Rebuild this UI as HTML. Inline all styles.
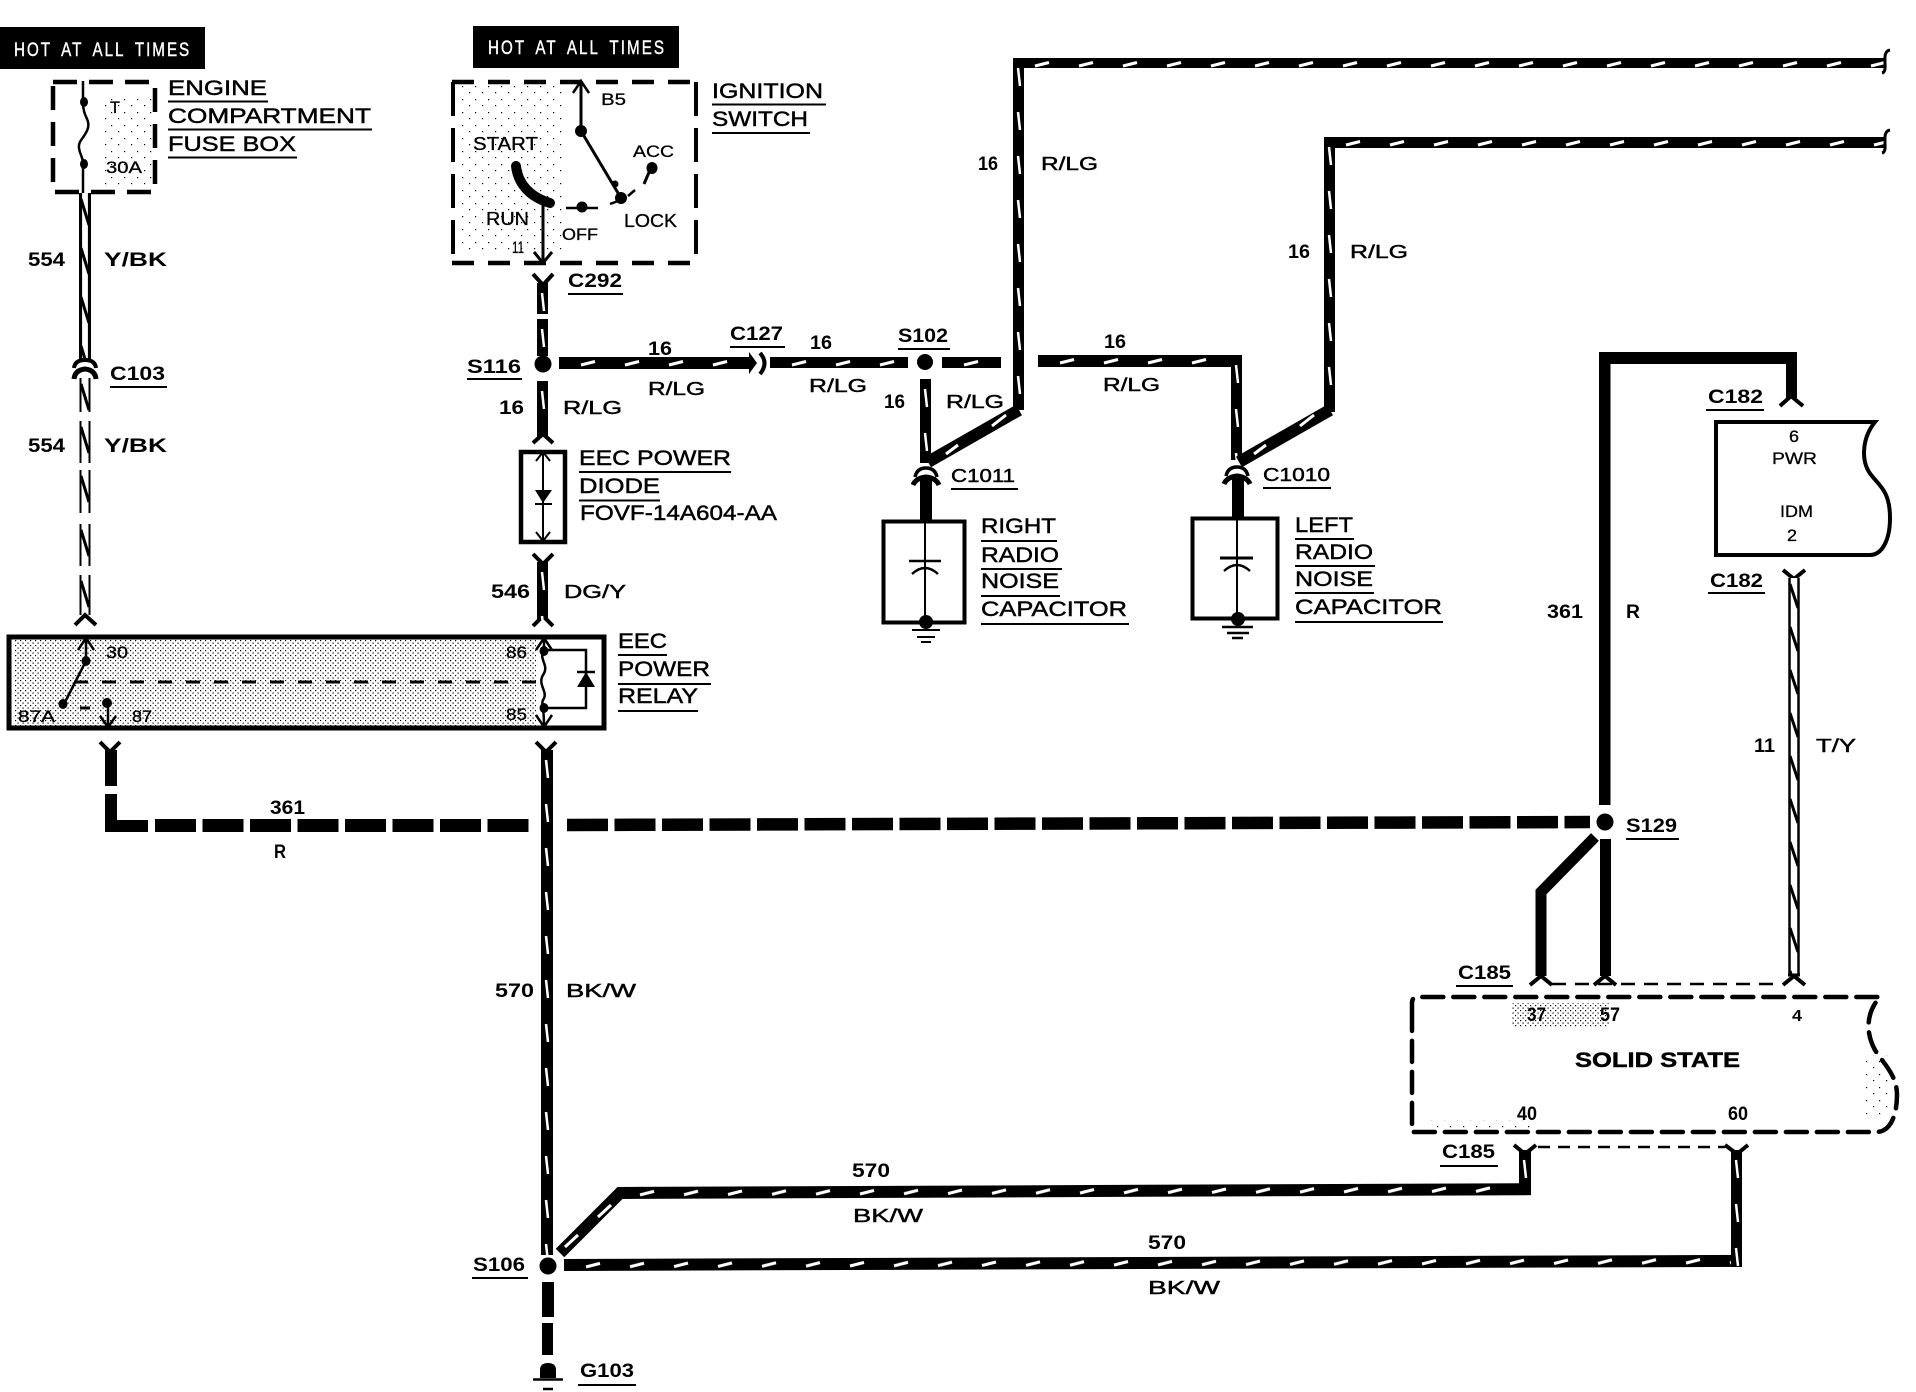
<!DOCTYPE html>
<html><head><meta charset="utf-8">
<style>
html,body{margin:0;padding:0;background:#fff}
svg{display:block}
text{font-family:"Liberation Sans",sans-serif;fill:#000}
.l{font-size:21px;stroke:#000;stroke-width:.45px}
.b{font-size:19px;font-weight:bold}
.w{font-size:18.5px;stroke:#000;stroke-width:.45px}
.s{font-size:17px;stroke:#000;stroke-width:.3px}
.h{font-size:19px;fill:#fff;stroke:#fff;stroke-width:.4px;letter-spacing:2px;word-spacing:5px}
</style></head><body>
<svg width="1916" height="1392" viewBox="0 0 1916 1392" xmlns="http://www.w3.org/2000/svg">
<defs>
<pattern id="H" width="44" height="12" patternUnits="userSpaceOnUse"><rect width="44" height="12" fill="#000"/><path d="M22 8L36 4.5" stroke="#fff" stroke-width="3"/></pattern>
<pattern id="V" width="12" height="44" patternUnits="userSpaceOnUse"><rect width="12" height="44" fill="#000"/><path d="M5 10L7 28" stroke="#fff" stroke-width="2.5"/></pattern>
<pattern id="Z" width="12" height="49" patternUnits="userSpaceOnUse"><rect width="12" height="49" fill="#fff"/><path d="M1.5 0V49M10.5 0V49" stroke="#000" stroke-width="3.2"/><path d="M2 6L10 32" stroke="#000" stroke-width="3"/></pattern>
<pattern id="Y" width="12" height="49" patternUnits="userSpaceOnUse"><rect width="12" height="49" fill="#fff"/><path d="M1.5 0V49M10.5 0V49" stroke="#000" stroke-width="2"/><path d="M2 6L10 32" stroke="#000" stroke-width="3"/></pattern>
<pattern id="Z2" width="12" height="43" patternUnits="userSpaceOnUse"><rect width="12" height="43" fill="#fff"/><path d="M1.5 0V43M10.5 0V43" stroke="#000" stroke-width="2.5"/><path d="M2 6L10 30" stroke="#000" stroke-width="3"/></pattern>
<pattern id="D" width="5" height="5" patternUnits="userSpaceOnUse"><rect x="0" y="0" width="1.2" height="1.2" fill="#000"/><rect x="2.5" y="2.5" width="1.2" height="1.2" fill="#000"/></pattern>
<pattern id="D2" width="13" height="13" patternUnits="userSpaceOnUse"><rect x="1" y="1" width="1.2" height="1.2" fill="#000"/><rect x="7" y="8" width="1.2" height="1.2" fill="#000"/></pattern>
</defs>
<rect width="1916" height="1392" fill="#fff"/>

<!-- stipples -->
<rect x="14" y="640" width="522" height="86" fill="url(#D)"/>
<rect x="462" y="85" width="100" height="170" fill="url(#D2)"/>
<rect x="100" y="95" width="52" height="90" fill="url(#D2)"/>
<rect x="1512" y="1003" width="98" height="24" fill="url(#D)"/>
<rect x="1862" y="1055" width="30" height="60" fill="url(#D2)"/>
<rect x="1430" y="1120" width="100" height="8" fill="url(#D2)"/>

<!-- header boxes -->
<rect x="0" y="27" width="205" height="42" fill="#000"/>
<rect x="473" y="26" width="206" height="42" fill="#000"/>
<text class="h" transform="translate(14,56) scale(.8,1)" textLength="221">HOT AT ALL TIMES</text>
<text class="h" transform="translate(488,54) scale(.8,1)" textLength="222">HOT AT ALL TIMES</text>

<!-- fuse box -->
<rect x="53" y="82" width="102" height="110" fill="none" stroke="#000" stroke-width="4.5" stroke-dasharray="24 12"/>
<path d="M83 81V102C83 118 90 118 88 128C85 138 78 140 79 148C80 156 83 156 83 164V193" fill="none" stroke="#000" stroke-width="2.5"/>
<ellipse cx="84" cy="102" rx="4" ry="5"/><ellipse cx="84" cy="164" rx="4" ry="5"/>
<text class="s" x="110" y="113" textLength="10" lengthAdjust="spacingAndGlyphs">T</text>
<text class="s" x="106" y="173" textLength="36" lengthAdjust="spacingAndGlyphs">30A</text>
<text class="l" x="168" y="95" textLength="99" lengthAdjust="spacingAndGlyphs">ENGINE</text>
<text class="l" x="168" y="123" textLength="203" lengthAdjust="spacingAndGlyphs">COMPARTMENT</text>
<text class="l" x="168" y="151" textLength="128" lengthAdjust="spacingAndGlyphs">FUSE BOX</text>

<!-- 554 wire -->
<g transform="translate(79,193)"><rect width="12" height="167" fill="url(#Z)"/></g>
<path d="M74 368Q75 360 85 360Q95 360 96 368" fill="none" stroke="#000" stroke-width="4"/>
<path d="M74 379Q75 370 85 369Q95 370 96 379" fill="none" stroke="#000" stroke-width="5"/>
<g transform="translate(79,378)"><rect width="12" height="34" fill="url(#Y)"/></g>
<g transform="translate(79,421)"><rect width="12" height="42" fill="url(#Y)"/></g>
<g transform="translate(79,470)"><rect width="12" height="43" fill="url(#Y)"/></g>
<g transform="translate(79,524)"><rect width="12" height="42" fill="url(#Y)"/></g>
<g transform="translate(79,575)"><rect width="12" height="40" fill="url(#Y)"/></g>
<path d="M75 625L85 615L96 625" fill="none" stroke="#000" stroke-width="4"/>
<text class="b" x="28" y="266" textLength="37" lengthAdjust="spacingAndGlyphs">554</text>
<text class="b" x="104" y="266" textLength="63" lengthAdjust="spacingAndGlyphs">Y/BK</text>
<text class="b" x="110" y="380" textLength="55" lengthAdjust="spacingAndGlyphs">C103</text>
<text class="b" x="28" y="452" textLength="37" lengthAdjust="spacingAndGlyphs">554</text>
<text class="b" x="104" y="452" textLength="63" lengthAdjust="spacingAndGlyphs">Y/BK</text>

<!-- ignition switch -->
<path d="M453 82V264M696 82V264" fill="none" stroke="#000" stroke-width="4" stroke-dasharray="34 12"/>
<path d="M452 82H697M452 263H697" fill="none" stroke="#000" stroke-width="4.5" stroke-dasharray="22 14"/>
<path d="M581 82V131L621 198" fill="none" stroke="#000" stroke-width="3"/>
<path d="M573 93L581 81L589 93" fill="none" stroke="#000" stroke-width="2.5"/>
<circle cx="581" cy="131" r="6"/><circle cx="621" cy="198" r="6"/><circle cx="615" cy="184" r="3.5"/>
<path d="M628 196L635 190" stroke="#000" stroke-width="2.5"/>
<ellipse cx="652" cy="168" rx="5.5" ry="6"/><path d="M650 170L644 184" stroke="#000" stroke-width="3"/>
<path d="M516 166C518 184 530 197 550 203" fill="none" stroke="#000" stroke-width="10" stroke-linecap="round"/>
<path d="M543 205V263" stroke="#000" stroke-width="3"/>
<path d="M534 252L543 263L552 252" fill="none" stroke="#000" stroke-width="3"/>
<circle cx="582" cy="207" r="5.5"/><path d="M566 208H598M610 204L618 201" stroke="#000" stroke-width="2.5"/>
<text class="s" x="601" y="105" textLength="25" lengthAdjust="spacingAndGlyphs">B5</text>
<text class="s" x="633" y="157" textLength="41" lengthAdjust="spacingAndGlyphs">ACC</text>
<text class="s" x="473" y="150" textLength="65" lengthAdjust="spacingAndGlyphs" style="font-size:18px">START</text>
<text class="s" x="486" y="225" textLength="43" lengthAdjust="spacingAndGlyphs" style="font-size:18px">RUN</text>
<text class="s" x="512" y="253" textLength="12" lengthAdjust="spacingAndGlyphs">11</text>
<text class="s" x="562" y="240" textLength="36" lengthAdjust="spacingAndGlyphs">OFF</text>
<text class="s" x="624" y="227" textLength="53" lengthAdjust="spacingAndGlyphs" style="font-size:18px">LOCK</text>
<text class="l" x="712" y="98" textLength="111" lengthAdjust="spacingAndGlyphs">IGNITION</text>
<text class="l" x="712" y="126" textLength="96" lengthAdjust="spacingAndGlyphs">SWITCH</text>

<!-- C292 / S116 -->
<path d="M533 274L543 285L553 274" fill="none" stroke="#000" stroke-width="4"/>
<g transform="translate(537,283)"><rect width="11" height="31" fill="url(#V)"/></g>
<g transform="translate(537,319)"><rect width="11" height="37" fill="url(#V)"/></g>
<circle cx="543" cy="364" r="8.5"/>
<g transform="translate(537,381)"><rect width="11" height="56" fill="url(#V)"/></g>
<path d="M533 443L543 434L553 443" fill="none" stroke="#000" stroke-width="4"/>
<text class="b" x="568" y="287" textLength="54" lengthAdjust="spacingAndGlyphs">C292</text>
<text class="b" x="467" y="373" textLength="54" lengthAdjust="spacingAndGlyphs">S116</text>
<text class="b" x="499" y="414" textLength="25" lengthAdjust="spacingAndGlyphs">16</text>
<text class="w" x="563" y="414" textLength="59" lengthAdjust="spacingAndGlyphs">R/LG</text>

<!-- horizontal 16 wire -->
<g transform="translate(559,357)"><rect width="192" height="12" fill="url(#H)"/></g>
<path d="M749 352L757 363L749 374Z"/>
<path d="M760 353Q769 363 760 374" fill="none" stroke="#000" stroke-width="4"/>
<g transform="translate(770,357)"><rect width="138" height="11" fill="url(#H)"/></g>
<circle cx="925" cy="362" r="8"/>
<g transform="translate(942,357)"><rect width="59" height="11" fill="url(#H)"/></g>
<g transform="translate(1038,355)"><rect width="204" height="12" fill="url(#H)"/></g>
<g transform="translate(1231,355)"><rect width="11" height="105" fill="url(#V)"/></g>
<g transform="translate(920,379)"><rect width="11" height="84" fill="url(#V)"/></g>
<text class="b" x="648" y="355" textLength="24" lengthAdjust="spacingAndGlyphs">16</text>
<text class="w" x="648" y="395" textLength="57" lengthAdjust="spacingAndGlyphs">R/LG</text>
<text class="b" x="730" y="340" textLength="53" lengthAdjust="spacingAndGlyphs">C127</text>
<text class="b" x="810" y="349" textLength="22" lengthAdjust="spacingAndGlyphs">16</text>
<text class="w" x="809" y="392" textLength="58" lengthAdjust="spacingAndGlyphs">R/LG</text>
<text class="b" x="898" y="342" textLength="50" lengthAdjust="spacingAndGlyphs">S102</text>
<text class="b" x="884" y="408" textLength="21" lengthAdjust="spacingAndGlyphs">16</text>
<text class="w" x="946" y="408" textLength="58" lengthAdjust="spacingAndGlyphs">R/LG</text>
<text class="b" x="1104" y="348" textLength="22" lengthAdjust="spacingAndGlyphs">16</text>
<text class="w" x="1103" y="391" textLength="57" lengthAdjust="spacingAndGlyphs">R/LG</text>

<!-- top wires -->
<g transform="translate(1013,58)"><rect width="872" height="10" fill="url(#H)"/></g>
<g transform="translate(1013,58)"><rect width="11" height="352" fill="url(#V)"/></g>
<g transform="translate(1324,137)"><rect width="561" height="11" fill="url(#H)"/></g>
<g transform="translate(1324,137)"><rect width="11" height="275" fill="url(#V)"/></g>
<path d="M1890 50C1884 51 1885 58 1885 62C1885 66 1886 72 1882 73" fill="none" stroke="#000" stroke-width="3"/>
<path d="M1890 130C1884 131 1885 138 1885 142C1885 146 1886 152 1882 153" fill="none" stroke="#000" stroke-width="3"/>
<path d="M1019 410L928 462M1330 410L1239 462" stroke="#000" stroke-width="12" fill="none"/>
<path d="M992 426L1006 415M946 454L958 445M1300 426L1314 415M1254 454L1266 445" stroke="#fff" stroke-width="3"/>
<text class="b" x="978" y="170" textLength="20" lengthAdjust="spacingAndGlyphs">16</text>
<text class="w" x="1041" y="170" textLength="57" lengthAdjust="spacingAndGlyphs">R/LG</text>
<text class="b" x="1288" y="258" textLength="22" lengthAdjust="spacingAndGlyphs">16</text>
<text class="w" x="1350" y="258" textLength="58" lengthAdjust="spacingAndGlyphs">R/LG</text>

<!-- capacitors -->
<path d="M915 477Q917 468 926 468Q935 468 937 477" fill="none" stroke="#000" stroke-width="3.5"/>
<path d="M913 485Q916 478 926 477Q936 478 939 485" fill="none" stroke="#000" stroke-width="5"/>
<rect x="920" y="478" width="12" height="42"/>
<rect x="883.5" y="521.5" width="81" height="101" fill="none" stroke="#000" stroke-width="4"/>
<path d="M925 520V622" stroke="#000" stroke-width="2"/>
<path d="M909 561H941" stroke="#000" stroke-width="2.5"/>
<path d="M912 574Q925 562 938 574" fill="none" stroke="#000" stroke-width="2.5"/>
<circle cx="926" cy="622" r="7"/>
<path d="M912 630H940M917 637H935M921 642H931" stroke="#000" stroke-width="2"/>
<path d="M1226 476Q1228 467 1237 467Q1246 467 1248 476" fill="none" stroke="#000" stroke-width="3.5"/>
<path d="M1224 484Q1227 477 1237 476Q1247 477 1250 484" fill="none" stroke="#000" stroke-width="5"/>
<rect x="1232" y="477" width="12" height="41"/>
<rect x="1192.5" y="518.5" width="85" height="100" fill="none" stroke="#000" stroke-width="4"/>
<path d="M1237 517V620" stroke="#000" stroke-width="2"/>
<path d="M1220 558H1253" stroke="#000" stroke-width="3"/>
<path d="M1224 571Q1237 559 1250 571" fill="none" stroke="#000" stroke-width="2.5"/>
<circle cx="1238" cy="619" r="7"/>
<path d="M1222 627H1253M1227 633H1249M1232 638H1243" stroke="#000" stroke-width="2.5"/>
<text class="w" x="951" y="482" textLength="64" lengthAdjust="spacingAndGlyphs">C1011</text>
<text class="w" x="1263" y="481" textLength="67" lengthAdjust="spacingAndGlyphs">C1010</text>
<text class="l" x="981" y="533" textLength="75" lengthAdjust="spacingAndGlyphs">RIGHT</text>
<text class="l" x="981" y="562" textLength="78" lengthAdjust="spacingAndGlyphs">RADIO</text>
<text class="l" x="981" y="588" textLength="78" lengthAdjust="spacingAndGlyphs">NOISE</text>
<text class="l" x="981" y="616" textLength="146" lengthAdjust="spacingAndGlyphs">CAPACITOR</text>
<text class="l" x="1295" y="532" textLength="58" lengthAdjust="spacingAndGlyphs">LEFT</text>
<text class="l" x="1295" y="559" textLength="78" lengthAdjust="spacingAndGlyphs">RADIO</text>
<text class="l" x="1295" y="586" textLength="78" lengthAdjust="spacingAndGlyphs">NOISE</text>
<text class="l" x="1295" y="614" textLength="147" lengthAdjust="spacingAndGlyphs">CAPACITOR</text>

<!-- diode -->
<rect x="521" y="452" width="44" height="90" fill="none" stroke="#000" stroke-width="4.5"/>
<path d="M543 452V541" stroke="#000" stroke-width="2"/>
<path d="M536 461L543 452L550 461M536 532L543 541L550 532" fill="none" stroke="#000" stroke-width="2"/>
<path d="M535 490H552L543 503Z"/><path d="M535 504H552" stroke="#000" stroke-width="2"/>
<text class="l" x="579" y="465" textLength="152" lengthAdjust="spacingAndGlyphs">EEC POWER</text>
<text class="l" x="579" y="493" textLength="81" lengthAdjust="spacingAndGlyphs">DIODE</text>
<text class="l" x="580" y="520" textLength="197" lengthAdjust="spacingAndGlyphs">FOVF-14A604-AA</text>

<!-- 546 -->
<path d="M533 554L543 564L553 554M533 626L543 616L553 626" fill="none" stroke="#000" stroke-width="4"/>
<g transform="translate(537,562)"><rect width="11" height="58" fill="url(#V)"/></g>
<text class="b" x="491" y="598" textLength="39" lengthAdjust="spacingAndGlyphs">546</text>
<text class="w" x="564" y="598" textLength="62" lengthAdjust="spacingAndGlyphs">DG/Y</text>

<!-- relay -->
<rect x="9" y="637" width="595" height="91" fill="none" stroke="#000" stroke-width="5"/>
<path d="M86 638V661L64 704" fill="none" stroke="#000" stroke-width="2.5"/>
<path d="M78 650L86 638L94 650" fill="none" stroke="#000" stroke-width="2.5"/>
<ellipse cx="86" cy="661" rx="4.5" ry="5"/><ellipse cx="63" cy="704" rx="4.5" ry="5"/>
<path d="M74 682H540" stroke="#000" stroke-width="3" stroke-dasharray="14 14"/>
<path d="M80 708H90" stroke="#000" stroke-width="3"/>
<circle cx="107" cy="703" r="5"/>
<path d="M108 703V727M100 716L108 727L116 716" fill="none" stroke="#000" stroke-width="2.5"/>
<path d="M544 638V650C538 660 550 665 543 675C537 685 549 692 543 700C541 704 544 705 544 726" fill="none" stroke="#000" stroke-width="2.5"/>
<path d="M536 650L544 638L552 650M536 715L544 727L552 715" fill="none" stroke="#000" stroke-width="2.5"/>
<ellipse cx="544" cy="651" rx="4.5" ry="5"/><ellipse cx="544" cy="708" rx="4.5" ry="5"/>
<path d="M544 650H586V708H544" fill="none" stroke="#000" stroke-width="2.5"/>
<path d="M577 687H595L586 672Z"/><path d="M577 672H595" stroke="#000" stroke-width="2.5"/>
<text class="s" x="106" y="658" textLength="22" lengthAdjust="spacingAndGlyphs">30</text>
<text class="s" x="506" y="658" textLength="21" lengthAdjust="spacingAndGlyphs">86</text>
<text class="s" x="506" y="720" textLength="21" lengthAdjust="spacingAndGlyphs">85</text>
<text class="s" x="18" y="722" textLength="37" lengthAdjust="spacingAndGlyphs">87A</text>
<text class="s" x="132" y="722" textLength="20" lengthAdjust="spacingAndGlyphs">87</text>
<text class="l" x="618" y="648" textLength="49" lengthAdjust="spacingAndGlyphs">EEC</text>
<text class="l" x="618" y="676" textLength="92" lengthAdjust="spacingAndGlyphs">POWER</text>
<text class="l" x="618" y="703" textLength="80" lengthAdjust="spacingAndGlyphs">RELAY</text>

<!-- 361 -->
<path d="M100 742L110 752L120 742" fill="none" stroke="#000" stroke-width="4"/>
<rect x="105" y="750" width="12" height="36"/><rect x="105" y="794" width="12" height="38"/>
<rect x="105" y="820" width="43" height="12"/>
<path d="M155 825.5H530" stroke="#000" stroke-width="13" stroke-dasharray="41 6.5"/>
<path d="M567 825L1590 822" stroke="#000" stroke-width="12.5" stroke-dasharray="41 6.5"/>
<circle cx="1605" cy="822" r="8.5"/>
<rect x="1599" y="352" width="11.5" height="453"/>
<rect x="1599" y="352" width="198" height="12"/>
<rect x="1786" y="352" width="11" height="46"/>
<path d="M1780 406L1791 396L1803 406" fill="none" stroke="#000" stroke-width="4"/>
<rect x="1600" y="839" width="11" height="137"/>
<path d="M1595 837L1541 892V976" fill="none" stroke="#000" stroke-width="11"/>
<text class="b" x="270" y="814" textLength="35" lengthAdjust="spacingAndGlyphs">361</text>
<text class="b" x="274" y="858" textLength="12" lengthAdjust="spacingAndGlyphs">R</text>
<text class="b" x="1547" y="618" textLength="36" lengthAdjust="spacingAndGlyphs">361</text>
<text class="b" x="1626" y="618" textLength="14" lengthAdjust="spacingAndGlyphs">R</text>
<text class="b" x="1626" y="832" textLength="51" lengthAdjust="spacingAndGlyphs">S129</text>

<!-- IDM -->
<path d="M1716 422H1875C1862 438 1860 462 1872 476C1880 486 1890 492 1890 518C1890 540 1882 555 1870 555H1716Z" fill="none" stroke="#000" stroke-width="4"/>
<text class="s" x="1789" y="442" textLength="10" lengthAdjust="spacingAndGlyphs">6</text>
<text class="s" x="1772" y="464" textLength="45" lengthAdjust="spacingAndGlyphs">PWR</text>
<text class="s" x="1780" y="517" textLength="33" lengthAdjust="spacingAndGlyphs">IDM</text>
<text class="s" x="1787" y="541" textLength="10" lengthAdjust="spacingAndGlyphs">2</text>
<text class="b" x="1708" y="403" textLength="55" lengthAdjust="spacingAndGlyphs">C182</text>
<text class="b" x="1710" y="587" textLength="53" lengthAdjust="spacingAndGlyphs">C182</text>

<!-- T/Y -->
<path d="M1783 570L1794 579L1805 570" fill="none" stroke="#000" stroke-width="4"/>
<g transform="translate(1788,578)"><rect width="12" height="397" fill="url(#Z2)"/></g>
<path d="M1788 975H1800" stroke="#000" stroke-width="3"/>
<text class="b" x="1754" y="752" textLength="21" lengthAdjust="spacingAndGlyphs">11</text>
<text class="w" x="1816" y="752" textLength="40" lengthAdjust="spacingAndGlyphs">T/Y</text>

<!-- solid state -->
<path d="M1412 1020V1003Q1412 997 1418 997H1880C1868 1010 1864 1030 1875 1050C1882 1062 1897 1074 1897 1095C1897 1112 1892 1132 1876 1132H1412V1020" fill="none" stroke="#000" stroke-width="4.5" stroke-dasharray="21 10" stroke-linecap="round"/>
<path d="M1530 985L1541 976L1552 985M1594 985L1605 976L1616 985M1783 985L1794 976L1805 985" fill="none" stroke="#000" stroke-width="4"/>
<path d="M1552 984H1782" stroke="#000" stroke-width="2.5" stroke-dasharray="14 9"/>
<path d="M1538 1147H1725" stroke="#000" stroke-width="2.5" stroke-dasharray="12 8"/>
<path d="M1514 1145L1525 1154L1536 1145M1725 1145L1737 1154L1748 1145" fill="none" stroke="#000" stroke-width="4"/>
<text class="b" x="1527" y="1021" textLength="19" lengthAdjust="spacingAndGlyphs">37</text>
<text class="b" x="1600" y="1021" textLength="20" lengthAdjust="spacingAndGlyphs">57</text>
<text class="b" x="1792" y="1021" textLength="10" lengthAdjust="spacingAndGlyphs" style="font-size:16px">4</text>
<text class="l" x="1575" y="1067" textLength="165" lengthAdjust="spacingAndGlyphs" style="font-weight:bold">SOLID STATE</text>
<text class="b" x="1517" y="1120" textLength="20" lengthAdjust="spacingAndGlyphs">40</text>
<text class="b" x="1728" y="1120" textLength="20" lengthAdjust="spacingAndGlyphs">60</text>
<text class="b" x="1458" y="979" textLength="53" lengthAdjust="spacingAndGlyphs">C185</text>
<text class="b" x="1442" y="1158" textLength="53" lengthAdjust="spacingAndGlyphs">C185</text>

<!-- 570 wires -->
<path d="M536 742L546 752L556 742" fill="none" stroke="#000" stroke-width="4"/>
<g transform="translate(541,750)"><rect width="12" height="505" fill="url(#V)"/></g>
<circle cx="548" cy="1266" r="8.5"/>
<rect x="542" y="1282" width="12" height="35"/><rect x="542" y="1323" width="11" height="32"/>
<path d="M540 1378V1370Q540 1363 548 1363Q556 1363 556 1370V1378Z"/>
<path d="M533 1379.5H563M543 1389H553" stroke="#000" stroke-width="2.5"/>
<g transform="translate(618,1187) rotate(-0.24)"><rect width="913" height="12" fill="url(#H)"/></g>
<g transform="translate(564,1259) rotate(-0.2)"><rect width="1178" height="12" fill="url(#H)"/></g>
<g transform="translate(1519,1150)"><rect width="12" height="45" fill="url(#V)"/></g>
<g transform="translate(1731,1150)"><rect width="11" height="117" fill="url(#V)"/></g>
<path d="M622 1191L560 1253" stroke="#000" stroke-width="12"/>
<path d="M598 1217L611 1205M565 1247L578 1235" stroke="#fff" stroke-width="3"/>
<text class="b" x="495" y="997" textLength="39" lengthAdjust="spacingAndGlyphs">570</text>
<text class="w" x="566" y="997" textLength="70" lengthAdjust="spacingAndGlyphs">BK/W</text>
<text class="b" x="852" y="1177" textLength="38" lengthAdjust="spacingAndGlyphs">570</text>
<text class="w" x="853" y="1222" textLength="70" lengthAdjust="spacingAndGlyphs">BK/W</text>
<text class="b" x="1148" y="1249" textLength="38" lengthAdjust="spacingAndGlyphs">570</text>
<text class="w" x="1148" y="1294" textLength="72" lengthAdjust="spacingAndGlyphs">BK/W</text>
<text class="b" x="473" y="1271" textLength="52" lengthAdjust="spacingAndGlyphs">S106</text>
<text class="b" x="580" y="1377" textLength="54" lengthAdjust="spacingAndGlyphs">G103</text>

<!-- underlines -->
<path stroke="#000" stroke-width="2" fill="none" d="M168 101.5H268M168 129.5H372M168 157.5H297M712 104.5H826M712 133H810M110 387H167M568 294H623M467 379H522M730 347H785M898 349H950M951 489H1018M1263 488H1331M579 472H731M579 500.5H660M618 655H667M618 684H711M618 711H698M981 541H1057M981 569H1062M981 596H1060M981 624H1129M1295 539H1354M1295 566H1375M1295 593H1374M1295 622H1443M1626 839H1679M1706 410H1764M1708 593H1765M1456 986H1513M1440 1166H1498M472 1278H528M578 1385H636"/>
</svg>
</body></html>
